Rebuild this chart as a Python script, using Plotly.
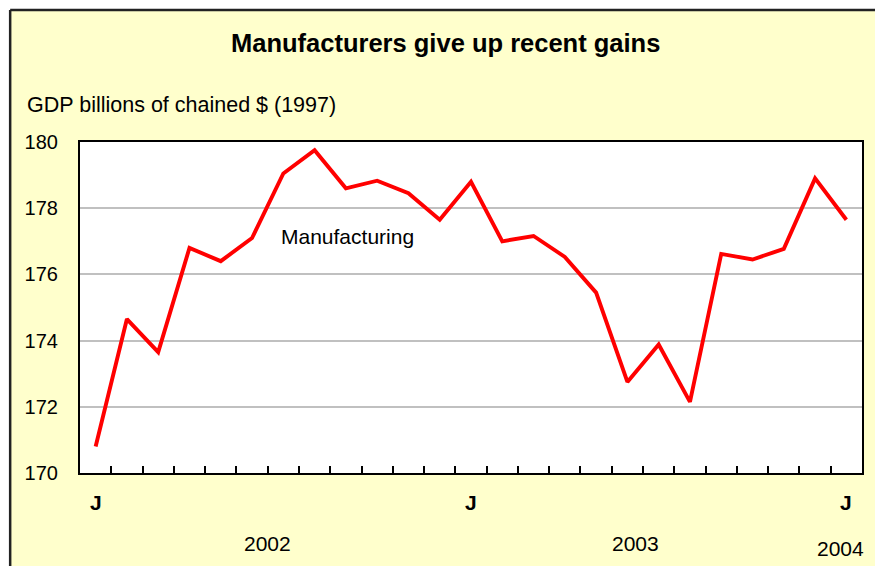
import plotly.graph_objects as go

# ---- data ----
months = list(range(25))  # Jan 2002 .. Jan 2004 (month index)
manufacturing = [170.8, 174.65, 173.65, 176.8, 176.4, 177.1, 179.05, 179.75, 178.6, 178.83,
                 178.45, 177.65, 178.8, 177.0, 177.16, 176.53, 175.45, 172.75, 173.88, 172.15,
                 176.62, 176.45, 176.77, 178.9, 177.65]
month_ticks = [m + 0.5 for m in months[:-1]]
j_label_months = [0, 12, 24]
year_labels = ["2002", "2003", "2004"]
year_label_x = [5.5, 17.25, 23.8]
year_label_y = [-0.2115, -0.2115, -0.2266]
y_ticks = [170, 172, 174, 176, 178, 180]

FONT = "Arial, Liberation Sans, sans-serif"

fig = go.Figure()
fig.add_trace(go.Scatter(x=months, y=manufacturing, mode="lines",
                         line=dict(color="#FF0000", width=3.9), hoverinfo="skip",
                         showlegend=False))

annotations = []
# title
annotations.append(dict(text="<b>Manufacturers give up recent gains</b>", xref="paper", yref="paper",
                        x=0.468, y=1.299, xanchor="center", yanchor="middle", showarrow=False,
                        font=dict(size=25.5, color="black", family=FONT)))
# y-axis title
annotations.append(dict(text="GDP billions of chained $ (1997)", xref="paper", yref="paper",
                        x=-0.0702, y=1.1118, xanchor="left", yanchor="middle", showarrow=False,
                        font=dict(size=21.5, color="black", family=FONT)))
# series label
annotations.append(dict(text="Manufacturing", xref="x", yref="y", x=8.05, y=177.15,
                        xanchor="center", yanchor="middle", showarrow=False,
                        font=dict(size=21, color="black", family=FONT)))
# J labels
for m in j_label_months:
    annotations.append(dict(text="<b>J</b>", xref="x", yref="paper", x=m, y=-0.0906,
                            xanchor="center", yanchor="middle", showarrow=False,
                            font=dict(size=21, color="black", family=FONT)))
# year labels
for t, xx, yy in zip(year_labels, year_label_x, year_label_y):
    annotations.append(dict(text=t, xref="x", yref="paper", x=xx, y=yy,
                            xanchor="center", yanchor="middle", showarrow=False,
                            font=dict(size=21, color="black", family=FONT)))

shapes = [
    # white strips outside outer frame (top & left)
    dict(type="rect", xref="paper", yref="paper", x0=-0.2, x1=1.2, y0=1.3988, y1=1.6,
         fillcolor="white", line=dict(width=0), layer="below"),
    dict(type="rect", xref="paper", yref="paper", x0=-0.2, x1=-0.0893, y0=-0.5, y1=1.6,
         fillcolor="white", line=dict(width=0), layer="below"),
    # outer frame lines
    dict(type="line", xref="paper", yref="paper", x0=-0.0893, x1=1.2, y0=1.3988, y1=1.3988,
         line=dict(color="#222222", width=2.5)),
    dict(type="line", xref="paper", yref="paper", x0=-0.0893, x1=-0.0893, y0=-0.5, y1=1.3988,
         line=dict(color="#222222", width=2.5)),
]

fig.update_layout(
    width=875, height=566,
    margin=dict(l=80, r=11, t=142, b=93),
    paper_bgcolor="#FFFFCC",
    plot_bgcolor="white",
    font=dict(family=FONT, color="black"),
    annotations=annotations,
    shapes=shapes,
    xaxis=dict(range=[-0.5, 24.5], tickvals=month_ticks, ticks="inside", ticklen=7,
               tickwidth=1.5, tickcolor="black", showticklabels=False, showgrid=False,
               zeroline=False, showline=True, linecolor="black", linewidth=2.2, mirror=True,
               fixedrange=True),
    yaxis=dict(range=[170, 180], tickvals=y_ticks, ticks="", showgrid=True,
               gridcolor="#C0C0C0", gridwidth=1.6, zeroline=False, showline=True,
               linecolor="black", linewidth=2.2, mirror=True, ticklabelstandoff=16,
               tickfont=dict(size=20, color="black", family=FONT), fixedrange=True),
)

fig.write_html("out.html", config={"displayModeBar": False},
               post_script="document.body.style.margin='0';document.body.style.overflow='hidden';")
